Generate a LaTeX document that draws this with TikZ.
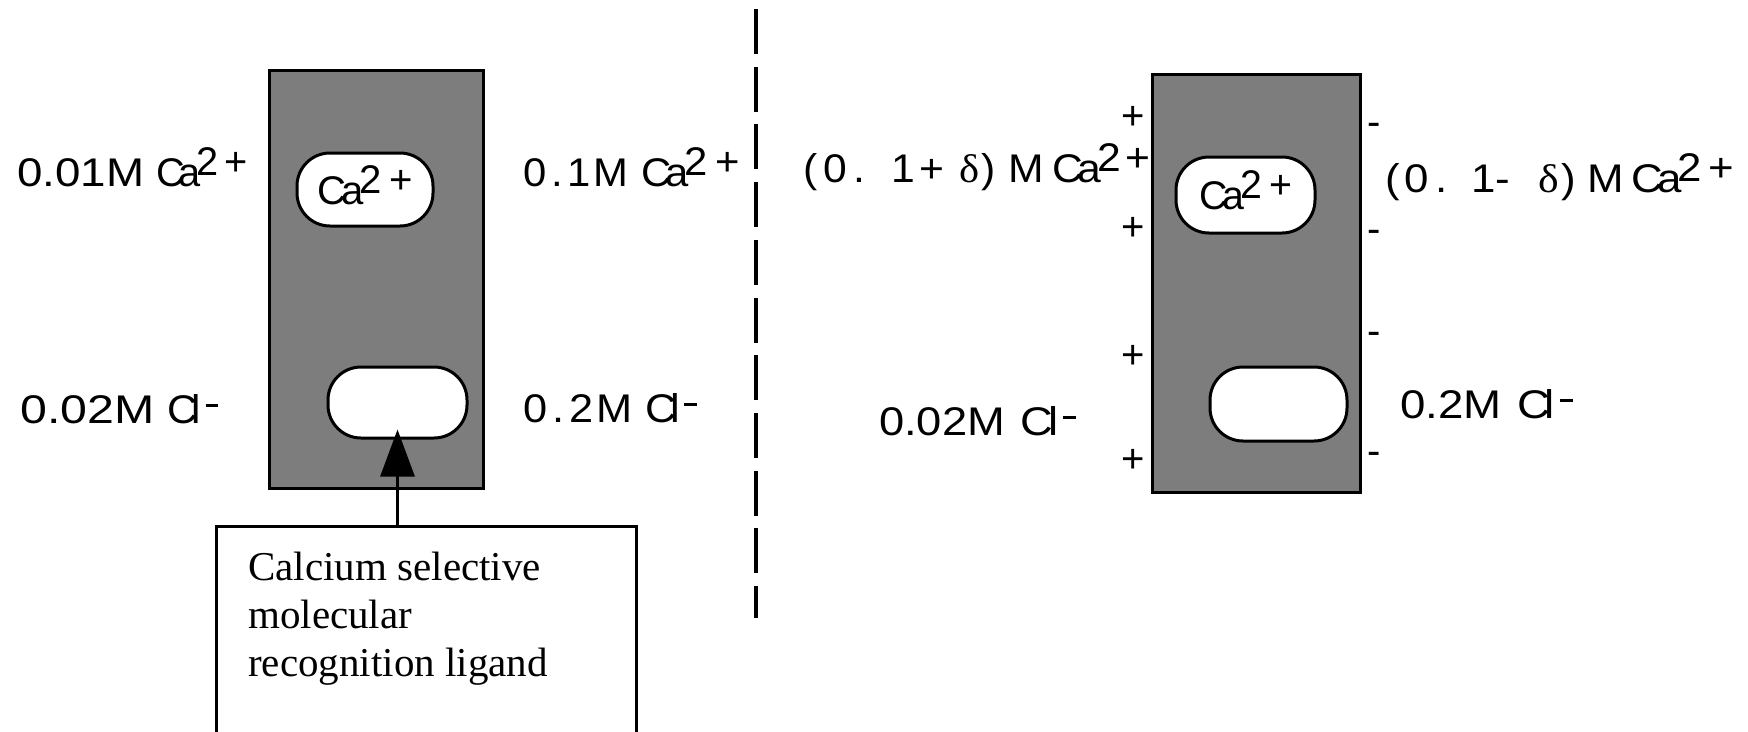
\documentclass[tikz,border=0pt]{standalone}
\usepackage{fontspec}
\usepackage{graphicx}
\setmainfont{Liberation Sans}
\newfontfamily\serf{Liberation Serif}
\usetikzlibrary{arrows.meta}
\definecolor{memgray}{RGB}{125,125,125}
% stretch a label horizontally to a given width, keeping its height
\newcommand\fitw[2]{\resizebox{#1pt}{\height}{#2}}
% widened figures
\newcommand\wide[1]{\scalebox{1.15}[1]{#1}}
% raised charge marks
\newcommand\hi[1]{\raisebox{11pt}{#1}}
\newcommand\negs{\rule[16pt]{12pt}{3.5pt}}
\begin{document}
\begin{tikzpicture}[x=1pt,y=-1pt,
  txt/.style={font=\fontsize{40}{48}\selectfont, inner sep=0pt},
  ionlbl/.style={txt, anchor=base west},
  membrane/.style={draw, line width=3pt, fill=memgray, inner sep=0pt},
  pill/.style={draw, fill=white, line width=3pt, rounded corners=33pt, txt,
    text height=41pt, text depth=12pt},
  charge/.style={txt},
  callout/.style={draw, line width=2.5pt, inner xsep=32pt, inner ysep=0pt,
    font=\serf\fontsize{41}{48}\selectfont, anchor=north west},
  divider/.style={line width=4pt, dash pattern=on 45pt off 12.7pt}]
\clip (0,0) rectangle (1748,731);

% ---- left cell: membrane at rest ----
\node[membrane, minimum width=214pt, minimum height=418pt] (memL) at (376,279) {};
\node[pill, minimum width=136pt, minimum height=73pt] (caL) at (365,189.5)
  {\fitw{95}{C\kern-5pt a\kern-4pt\hi{2\kern7pt+}}};
\node[pill, minimum width=139pt, minimum height=71pt] (ligL) at (397.5,402.5) {};

\node[ionlbl] (caOutL) at (17,186)
  {\fitw{231}{\wide{0.01M}\kern12pt C\kern-6pt a\kern-4pt\hi{2\kern6pt+}}};
\node[ionlbl] (clOutL) at (20,423)
  {\fitw{198}{\wide{0.02M}\kern12pt C\kern-6pt l\kern5pt\negs}};
\node[ionlbl] (caInL) at (523,186)
  {\fitw{217}{0\kern5pt.\kern4pt1\kern3pt M\kern12pt C\kern-6pt a\kern-4pt\hi{2\kern8pt+}}};
\node[ionlbl] (clInL) at (523,422)
  {\fitw{174}{0\kern5pt.\kern4pt2\kern3pt M\kern12pt C\kern-6pt l\kern4pt\negs}};

\node[callout] (note) at (215,525)
  {\parbox[b][240pt][t]{356pt}{\rule{0pt}{54pt}Calcium selective\\molecular\\recognition ligand}};
\draw[line width=3pt, -{Triangle[length=47pt,width=34pt]}]
  (note.north -| ligL.south) -- ([yshift=10pt]ligL.south);

% ---- divider ----
\coordinate (divtop) at (756,9);
\coordinate (divbot) at (756,618);
\draw[divider] (divtop) -- (divbot);

% ---- right cell: polarised membrane ----
\node[membrane, minimum width=208pt, minimum height=418pt] (memR) at (1256,283) {};
\node[pill, minimum width=139pt, minimum height=76pt] (caR) at (1245.5,195)
  {\fitw{93}{C\kern-5pt a\kern-4pt\hi{2\kern7pt+}}};
\node[pill, minimum width=137pt, minimum height=74pt] (ligR) at (1278.5,404) {};

\node[ionlbl] (caOutR) at (803,182)
  {\fitw{347}{(\kern6pt 0\kern6pt.\kern24pt 1\kern4pt+\kern14pt{\serf δ}\kern2pt)\kern12pt M\kern8pt C\kern-5pt a\kern-4pt\hi{2\kern4pt+}}};
\node[ionlbl] (caInR) at (1385,192)
  {\fitw{349}{(\kern4pt 0\kern6pt.\kern22pt 1\kern0pt-\kern26pt{\serf δ}\kern2pt)\kern10pt M\kern7pt C\kern-5pt a\kern-4pt\hi{2\kern6pt+}}};
\node[ionlbl] (clOutR) at (879,435)
  {\fitw{197}{0.02M\kern14pt C\kern-5pt l\kern4pt\negs}};
\node[ionlbl] (clInR) at (1400,418)
  {\fitw{173}{0.2M\kern14pt C\kern-5pt l\kern4pt\negs}};

\foreach \yy [count=\i] in {118,229,357,461}
  \node[charge] (pos\i) at (1133,\yy) {+};
\foreach \yy [count=\i] in {129,236,338,458}
  \node[charge] (neg\i) at (1374,\yy) {-};
\end{tikzpicture}
\end{document}
